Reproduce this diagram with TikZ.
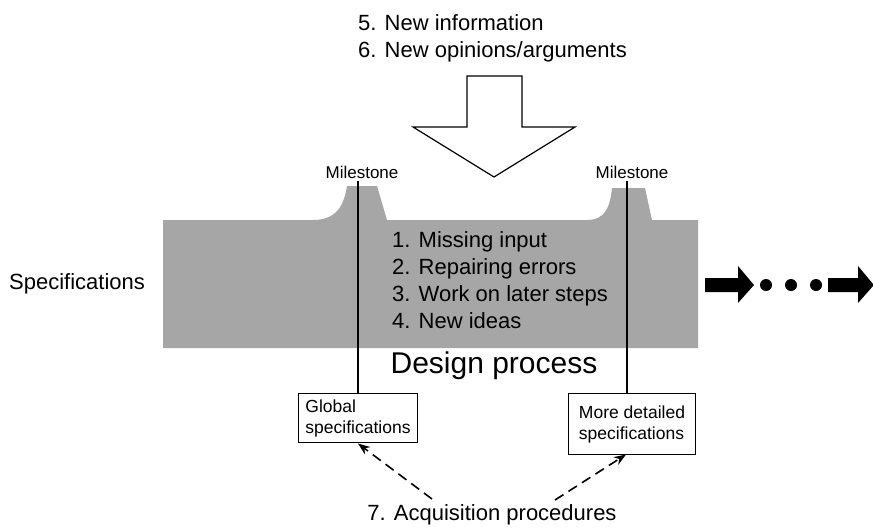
\documentclass[tikz,border=0pt]{standalone}
\usepackage{fontspec}
\setmainfont{Liberation Sans}
\usetikzlibrary{arrows.meta}
\definecolor{bandgray}{RGB}{166,166,166}
\tikzset{
  big/.style={font=\fontsize{22}{27}\selectfont, inner sep=0pt, align=left},
  small/.style={font=\fontsize{17}{21}\selectfont, inner sep=0pt},
  specbox/.style={draw, line width=1pt, font=\fontsize{17.5}{21}\selectfont, align=left, anchor=north west, inner xsep=6pt, inner ysep=4pt},
  msline/.style={line width=1.1pt},
  acqarrow/.style={line width=1.6pt, dash pattern=on 10pt off 6pt, -{Stealth[length=12pt,width=9pt]}},
  blockarrow/.style={fill=black, draw=none}
}
\begin{document}
\begin{tikzpicture}[x=1pt,y=-1pt]
\useasboundingbox (0,0) rectangle (873,528);
% gray band
\fill[bandgray] (163,220) -- (313,220) .. controls (336,220) and (344,206) .. (347,186)
  -- (377,186) -- (387,220) -- (587,220) .. controls (606,220) and (610,206) .. (612,188)
  -- (645,188) -- (652,220) -- (698,220) -- (698,348) -- (163,348) -- cycle;
% down arrow
\draw[line width=1.2pt, fill=white] (467,76) -- (522,76) -- (522,127) -- (575,127) -- (494,177)
  -- (413,127) -- (467,127) -- cycle;
% texts
\node[big, anchor=west] (top) at (358,38.5) {5. New information\\6. New opinions/arguments};
\node[big, anchor=west] (list) at (392,280.5) {1. Missing input\\2. Repairing errors\\3. Work on later steps\\4. New ideas};
\node[big, anchor=west] (spec) at (9,284) {Specifications};
\node[font=\fontsize{30}{34}\selectfont, inner sep=0pt] (dp) at (494,366) {Design process};
\node[small] (ms1) at (362,172) {Milestone};
\node[small] (ms2) at (632,172) {Milestone};
% boxes
\node[specbox, minimum width=119pt, minimum height=49pt] (gbox) at (298,393) {Global\\specifications};
\node[specbox, minimum width=127pt, minimum height=61pt] (dbox) at (568,393) {More detailed\\specifications};
% milestone lines
\coordinate (m1top) at (358,181);
\coordinate (m2top) at (627,181);
\draw[msline] (m1top) -- (m1top |- gbox.north);
\draw[msline] (m2top) -- (m2top |- dbox.north);
% acquisition
\node[big] (acq) at (492,515) {7. Acquisition procedures};
\coordinate (a1) at (432,499);
\coordinate (a2) at (555,500);
\draw[acqarrow] (a1) -- (358,443.5);
\draw[acqarrow] (a2) -- (626,454.5);
% right arrows
\path[blockarrow] (705,278) -- (738,278) -- (738,266) -- (754,285) -- (738,303) -- (738,292) -- (705,292) -- cycle;
\fill (766,285) circle (6);
\fill (791,285) circle (6);
\fill (816,285) circle (6);
\path[blockarrow] (828,278) -- (858,278) -- (858,266) -- (873,284) -- (873,286) -- (858,303) -- (858,292) -- (828,292) -- cycle;
\end{tikzpicture}
\end{document}
